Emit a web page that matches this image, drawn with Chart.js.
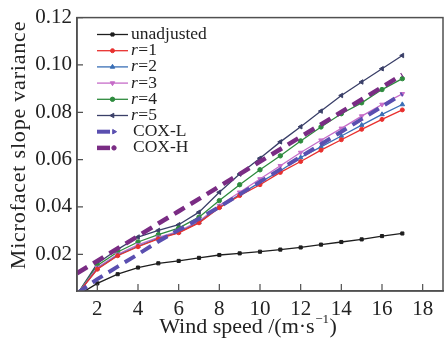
<!DOCTYPE html>
<html>
<head>
<meta charset="utf-8">
<script src="https://cdn.jsdelivr.net/npm/chart.js@4/dist/chart.umd.min.js"></script>
<style>
  html, body { margin: 0; padding: 0; background: #fff; overflow: hidden; }
  #wrap { width: 448px; height: 338px; }
</style>
</head>
<body>
<div id="wrap"><canvas id="c" width="448" height="338"></canvas></div>
<script>
// ---- data ----
const windSpeed = [1, 2, 3, 4, 5, 6, 7, 8, 9, 10, 11, 12, 13, 14, 15, 16, 17];
const unadjusted = [0.0025, 0.0077, 0.0116, 0.0144, 0.0162, 0.0172, 0.0185, 0.0197, 0.0204, 0.0211, 0.0220, 0.0229, 0.0241, 0.0252, 0.0263, 0.0277, 0.0288];
const r1 = [0.0030, 0.0137, 0.0194, 0.0232, 0.0265, 0.0291, 0.0333, 0.0397, 0.0448, 0.0494, 0.0546, 0.0592, 0.0640, 0.0684, 0.0728, 0.0770, 0.0810];
const r2 = [0.0030, 0.0139, 0.0196, 0.0234, 0.0267, 0.0293, 0.0335, 0.0399, 0.0452, 0.0504, 0.0553, 0.0609, 0.0654, 0.0700, 0.0746, 0.0791, 0.0833];
const r3 = [0.0030, 0.0144, 0.0200, 0.0240, 0.0272, 0.0297, 0.0340, 0.0406, 0.0462, 0.0518, 0.0574, 0.0630, 0.0682, 0.0732, 0.0784, 0.0833, 0.0878];
const r4 = [0.0030, 0.0153, 0.0210, 0.0252, 0.0283, 0.0311, 0.0357, 0.0427, 0.0494, 0.0557, 0.0616, 0.0679, 0.0738, 0.0794, 0.0840, 0.0896, 0.0942];
const r5 = [0.0030, 0.0161, 0.0221, 0.0273, 0.0301, 0.0325, 0.0378, 0.0462, 0.0539, 0.0606, 0.0675, 0.0739, 0.0805, 0.0871, 0.0928, 0.0984, 0.1040];
const coxL = [0.0035, 0.0095, 0.0148, 0.0200, 0.0254, 0.0303, 0.0350, 0.0400, 0.0453, 0.0506, 0.0559, 0.0612, 0.0665, 0.0718, 0.0771, 0.0824, 0.0878];
const coxH = [0.0120, 0.0172, 0.0225, 0.0277, 0.0330, 0.0382, 0.0434, 0.0487, 0.0539, 0.0592, 0.0644, 0.0696, 0.0749, 0.0801, 0.0854, 0.0906, 0.0959];
const xTicks = [2, 4, 6, 8, 10, 12, 14, 16, 18];
const yTicks = [0.02, 0.04, 0.06, 0.08, 0.10, 0.12];
const seriesLabels = ['unadjusted', 'r=1', 'r=2', 'r=3', 'r=4', 'r=5', 'COX-L', 'COX-H'];
const xTitle = 'Wind speed /(m·s';
const xTitleSup = '−1';
const yTitle = 'Microfacet slope variance';

const SERIF = "'Liberation Serif', 'Times New Roman', serif";
const pts = arr => arr.map((v, i) => ({ x: windSpeed[i], y: v }));

function ds(label, data, color, style, rot, radius, extra) {
  return Object.assign({
    label, data: pts(data), borderColor: color, backgroundColor: color,
    borderWidth: 1.3, pointStyle: style, pointRotation: rot || 0,
    pointRadius: radius, pointBorderWidth: 1, pointBackgroundColor: color,
    pointBorderColor: color, tension: 0, order: 1
  }, extra || {});
}

const datasets = [
  ds(seriesLabels[0], unadjusted, '#1e1e1e', 'rect', 0, 2.2),
  ds(seriesLabels[1], r1, '#e8302e', 'circle', 0, 2),
  ds(seriesLabels[2], r2, '#3a6fb6', 'triangle', 0, 2.6),
  ds(seriesLabels[3], r3, '#c66cc8', 'triangle', 180, 2.6),
  ds(seriesLabels[4], r4, '#2e8b3e', 'circle', 0, 2.2),
  ds(seriesLabels[5], r5, '#3a3f68', 'triangle', -90, 2.6),
  ds(seriesLabels[6], coxL, '#5a4fb0', 'triangle', 90, 0, { borderWidth: 4, borderDash: [12, 7], order: 0, legendRadius: 2.6 }),
  ds(seriesLabels[7], coxH, '#7a2c84', 'circle', 0, 0, { borderWidth: 4.5, borderDash: [12, 7], order: 0, legendRadius: 2.2 })
];

const framePlugin = {
  id: 'frame',
  afterDraw(chart) {
    const { ctx, chartArea: a, scales } = chart;
    ctx.save();
    ctx.strokeStyle = '#505050';
    ctx.lineWidth = 1.5;
    ctx.strokeRect(a.left, a.top, a.right - a.left, a.bottom - a.top);
    ctx.lineWidth = 1.2;
    ctx.beginPath();
    scales.x.ticks.forEach(t => {
      const px = scales.x.getPixelForValue(t.value);
      ctx.moveTo(px, a.bottom); ctx.lineTo(px, a.bottom - 7);
    });
    scales.y.ticks.forEach(t => {
      const py = scales.y.getPixelForValue(t.value);
      ctx.moveTo(a.left, py); ctx.lineTo(a.left + 6, py);
    });
    ctx.stroke();

    // axis titles
    ctx.fillStyle = '#222';
    ctx.textBaseline = 'middle';
    ctx.font = '22px ' + SERIF;
    const mainW = ctx.measureText(xTitle).width;
    ctx.font = '13px ' + SERIF;
    const supW = ctx.measureText(xTitleSup).width;
    ctx.font = '22px ' + SERIF;
    const closeW = ctx.measureText(')').width;
    let x0 = 248 - (mainW + supW + closeW + 1) / 2;
    const yT = 327;
    ctx.textAlign = 'left';
    ctx.fillText(xTitle, x0, yT);
    ctx.font = '13px ' + SERIF;
    ctx.fillText(xTitleSup, x0 + mainW + 0.5, yT - 7);
    ctx.font = '22px ' + SERIF;
    ctx.fillText(')', x0 + mainW + supW + 1, yT);
    ctx.save();
    ctx.translate(19, 145);
    ctx.rotate(-Math.PI / 2);
    ctx.textAlign = 'center';
    ctx.font = '22px ' + SERIF;
    if ('letterSpacing' in ctx) ctx.letterSpacing = '0.8px';
    ctx.fillText(yTitle, 0, 0);
    ctx.restore();

    // legend
    const lx0 = 97, lx1 = 128, tx = 131, ly0 = 34.5, dy = 16.2;
    chart.data.datasets.forEach((d, i) => {
      const y = ly0 + i * dy;
      ctx.save();
      ctx.strokeStyle = d.borderColor;
      ctx.fillStyle = d.borderColor;
      ctx.lineWidth = d.borderWidth;
      ctx.beginPath();
      let mx = (lx0 + lx1) / 2;
      if (d.borderDash) {
        ctx.moveTo(lx0, y); ctx.lineTo(lx0 + 13, y);
        mx = lx0 + 17;
      } else {
        ctx.moveTo(lx0, y); ctx.lineTo(lx1, y);
      }
      ctx.stroke();
      ctx.lineWidth = 1;
      Chart.helpers.drawPoint(ctx, {
        pointStyle: d.pointStyle, rotation: d.pointRotation || 0,
        radius: d.legendRadius || d.pointRadius, borderWidth: 1
      }, mx, y);
      ctx.restore();
      ctx.fillStyle = '#222';
      ctx.textAlign = 'left';
      ctx.textBaseline = 'middle';
      const lab = d.label;
      if (lab.startsWith('r=')) {
        ctx.font = 'italic 17.5px ' + SERIF;
        ctx.fillText('r', tx, y);
        const w = ctx.measureText('r').width;
        ctx.font = '17.5px ' + SERIF;
        ctx.fillText(lab.slice(1), tx + w + 0.5, y);
      } else if (lab.startsWith('COX')) {
        ctx.font = '17.5px ' + SERIF;
        ctx.fillText(lab, tx + 2, y);
      } else {
        ctx.font = '17.5px ' + SERIF;
        ctx.fillText(lab, tx, y);
      }
    });
    ctx.restore();
  }
};

new Chart(document.getElementById('c'), {
  type: 'line',
  data: { datasets },
  options: {
    responsive: false,
    animation: false,
    devicePixelRatio: 1,
    layout: { padding: { left: 0, right: 0, top: 16, bottom: 0 } },
    plugins: { legend: { display: false }, tooltip: { enabled: false } },
    scales: {
      x: {
        type: 'linear', min: 1, max: 19,
        afterFit: s => { s.height = 47; },
        afterBuildTicks: s => { s.ticks = xTicks.map(v => ({ value: v })); },
        grid: { display: false, drawTicks: false },
        border: { display: true, color: '#505050', width: 1.5 },
        ticks: { padding: 6, color: '#222', font: { family: SERIF, size: 21 }, maxRotation: 0, autoSkip: false,
                 callback: v => String(v) }
      },
      y: {
        type: 'linear', min: 0.0045, max: 0.12,
        afterFit: s => { s.width = 77; },
        afterBuildTicks: s => { s.ticks = yTicks.map(v => ({ value: v })); },
        grid: { display: false, drawTicks: false },
        border: { display: true, color: '#505050', width: 1.5 },
        ticks: { padding: 5, color: '#222', font: { family: SERIF, size: 21 }, autoSkip: false,
                 callback: v => Number(v).toFixed(2) }
      }
    }
  },
  plugins: [framePlugin]
});
</script>
</body>
</html>
